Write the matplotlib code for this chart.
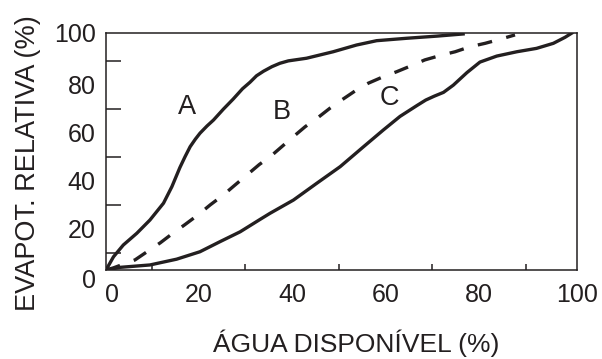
import numpy as np
import matplotlib.pyplot as plt

plt.rcParams['font.family'] = ['Liberation Sans', 'DejaVu Sans']

INK = '#231f20'

# curve A (solid, fast)
a_x = [0.2, 1.8, 3.9, 6.8, 9.6, 12.5, 14.3, 16.0, 17.1, 18.2, 19.3, 20.3,
       21.8, 23.2, 25.3, 27.4, 29.4, 31.0, 32.4, 33.9, 35.7, 37.4, 39.2,
       43.1, 48.8, 53.8, 58.1, 64.5, 71.0, 76.6]
a_y = [2.9, 8.4, 13.3, 18.2, 23.7, 30.7, 37.6, 45.5, 50.0, 54.2, 57.3, 59.8,
       62.8, 65.3, 69.8, 74.0, 78.3, 81.0, 83.7, 85.6, 87.5, 88.9, 89.9,
       91.0, 93.7, 96.5, 98.3, 99.3, 100.2, 101.1]

# curve B (dashed)
b_x = [0.2, 1.8, 6.4, 8.6, 11.8, 14.3, 17.1, 20.0, 22.5, 25.3, 27.4, 29.9,
       33.0, 35.3, 37.8, 40.3, 42.8, 45.6, 48.1, 50.6, 53.8, 56.3, 59.5,
       62.4, 65.9, 68.4, 72.0, 74.9, 78.1, 81.3, 84.5, 87.7]
b_y = [2.9, 3.8, 7.1, 10.0, 14.2, 17.9, 21.8, 26.0, 30.0, 34.1, 37.6, 41.7,
       46.8, 50.0, 54.2, 58.4, 62.5, 66.4, 70.2, 73.6, 77.8, 80.6, 83.3,
       85.4, 88.2, 90.3, 92.3, 93.7, 95.8, 97.2, 98.9, 100.7]

# curve C (solid, slow)
c_x = [0.2, 3.2, 9.6, 15.3, 20.3, 24.6, 28.9, 33.2, 35.3, 40.3, 45.3, 50.3,
       55.3, 59.5, 63.1, 66.7, 68.6, 70.4, 72.4, 74.5, 77.4, 80.2, 83.8,
       88.1, 92.3, 95.9, 98.4, 99.8]
c_y = [2.9, 4.0, 5.0, 7.4, 10.5, 14.7, 18.8, 24.0, 26.5, 32.0, 39.0, 45.9,
       54.2, 61.1, 66.8, 71.3, 73.6, 75.2, 76.8, 79.8, 85.0, 89.4, 91.9,
       93.7, 95.1, 97.2, 99.7, 101.4]

curve_names = ['A', 'B', 'C']
name_x = [17.5, 37.8, 60.8]
name_y = [70.8, 68.8, 74.3]

xlo, xhi = 0.2, 100.9
ylo, yhi = 2.9, 101.5
minor_ticks = np.arange(10, 100, 10)
label_ticks = [20, 40, 60, 80]

fig = plt.figure(figsize=(6.02, 3.59), dpi=100)
ax = fig.add_axes([0.1761, 0.2479, 0.7819, 0.6602])

ax.plot(a_x, a_y, color=INK, lw=2.4, solid_joinstyle='round')
ax.plot(b_x, b_y, color=INK, lw=2.4, linestyle=(0, (4.4, 4.4)))
ax.plot(c_x, c_y, color=INK, lw=2.4, solid_joinstyle='round')

for name, x, y in zip(curve_names, name_x, name_y):
    ax.text(x, y, name, fontsize=19.5, color=INK, ha='center', va='center')

ax.set_xlim(xlo, xhi)
ax.set_ylim(ylo, yhi)

ax.set_xticks(label_ticks + [xhi], [str(t) for t in label_ticks] + ['100'])
ax.set_yticks(label_ticks + [yhi], [str(t) for t in label_ticks] + ['100'])
ax.set_xticks(minor_ticks, minor=True)
ax.set_yticks(minor_ticks, minor=True)
ax.tick_params(which='major', length=0, labelsize=18, labelcolor=INK)
ax.tick_params(axis='x', which='major', pad=9)
ax.tick_params(axis='y', which='major', pad=7.5)
ax.tick_params(which='minor', direction='in', width=1.1, color=INK)
ax.tick_params(axis='x', which='minor', length=4.5)
ax.tick_params(axis='y', which='minor', length=11)

# the "0" labels sit just outside the corner
ax.annotate('0', xy=(0.0127, 0), xycoords='axes fraction', xytext=(0, -9),
            textcoords='offset points', ha='center', va='top', fontsize=18, color=INK)
ax.annotate('0', xy=(0, -0.034), xycoords='axes fraction', xytext=(-7.5, 0),
            textcoords='offset points', ha='right', va='center_baseline', fontsize=18, color=INK)

for s in ax.spines.values():
    s.set_linewidth(1.1)
    s.set_color(INK)

fig.text(0.592, 0.045, 'ÁGUA DISPONÍVEL (%)', fontsize=19, color=INK,
         ha='center', va='center')
fig.text(0.046, 0.547, 'EVAPOT. RELATIVA (%)', fontsize=19.5, color=INK,
         ha='center', va='center', rotation=90)

fig.savefig('out.png', dpi=100)
